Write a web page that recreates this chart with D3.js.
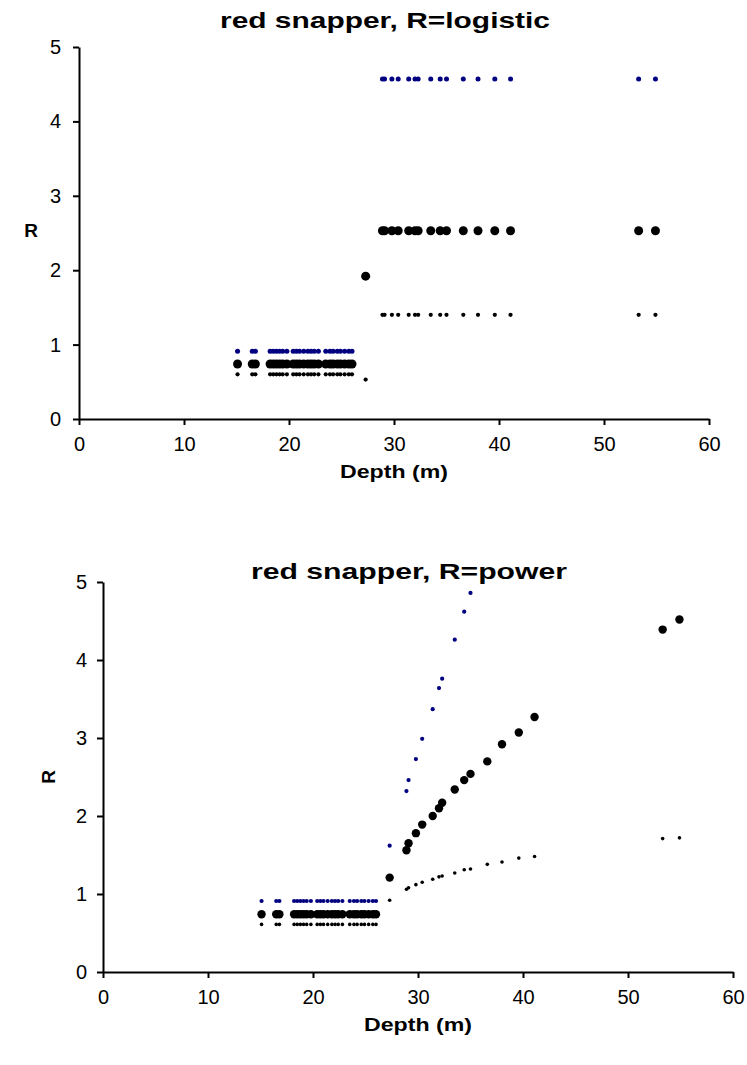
<!DOCTYPE html>
<html>
<head>
<meta charset="utf-8">
<script src="https://cdn.jsdelivr.net/npm/d3@7"></script>
<style>
  html, body { margin: 0; padding: 0; background: #fff; }
  svg { display: block; }
  text { font-family: "Liberation Sans", Arial, sans-serif; fill: #000; }
</style>
</head>
<body>
<svg id="chart" width="747" height="1065"></svg>
<script>
// ---- data ----
const depths = [
  15.1, 16.5, 16.8, 18.2, 18.5, 18.8, 19.1, 19.4, 19.8, 20.4, 20.7, 21.0, 21.4,
  21.8, 22.1, 22.4, 22.8, 23.5, 23.9, 24.2, 24.6, 24.9, 25.3, 25.7, 26.0,
  27.3, 28.9, 29.1, 29.8, 30.4, 31.4, 32.0, 32.3, 33.5, 34.4, 35.0, 36.6, 38.0, 39.6, 41.1, 53.3, 54.9
];

// logistic model (top panel)
const logisticUpper = [
  0.91, 0.91, 0.91, 0.91, 0.91, 0.91, 0.91, 0.91, 0.91, 0.91, 0.91, 0.91, 0.91,
  0.91, 0.91, 0.91, 0.91, 0.91, 0.91, 0.91, 0.91, 0.91, 0.91, 0.91, 0.91,
  null, 4.57, 4.57, 4.57, 4.57, 4.57, 4.57, 4.57, 4.57, 4.57, 4.57, 4.57, 4.57, 4.57, 4.57, 4.57, 4.57
];
const logisticMean = [
  0.74, 0.74, 0.74, 0.74, 0.74, 0.74, 0.74, 0.74, 0.74, 0.74, 0.74, 0.74, 0.74,
  0.74, 0.74, 0.74, 0.74, 0.74, 0.74, 0.74, 0.74, 0.74, 0.74, 0.74, 0.74,
  1.92, 2.53, 2.53, 2.53, 2.53, 2.53, 2.53, 2.53, 2.53, 2.53, 2.53, 2.53, 2.53, 2.53, 2.53, 2.53, 2.53
];
const logisticLower = [
  0.60, 0.60, 0.60, 0.60, 0.60, 0.60, 0.60, 0.60, 0.60, 0.60, 0.60, 0.60, 0.60,
  0.60, 0.60, 0.60, 0.60, 0.60, 0.60, 0.60, 0.60, 0.60, 0.60, 0.60, 0.60,
  0.53, 1.40, 1.40, 1.40, 1.40, 1.40, 1.40, 1.40, 1.40, 1.40, 1.40, 1.40, 1.40, 1.40, 1.40, 1.40, 1.40
];

// power model (bottom panel)
const powerUpper = [
  0.91, 0.91, 0.91, 0.91, 0.91, 0.91, 0.91, 0.91, 0.91, 0.91, 0.91, 0.91, 0.91,
  0.91, 0.91, 0.91, 0.91, 0.91, 0.91, 0.91, 0.91, 0.91, 0.91, 0.91, 0.91,
  1.62, 2.32, 2.46, 2.73, 2.99, 3.37, 3.64, 3.76, 4.26, 4.62, 4.86, null, null, null, null, null, null
];
const powerMean = [
  0.74, 0.74, 0.74, 0.74, 0.74, 0.74, 0.74, 0.74, 0.74, 0.74, 0.74, 0.74, 0.74,
  0.74, 0.74, 0.74, 0.74, 0.74, 0.74, 0.74, 0.74, 0.74, 0.74, 0.74, 0.74,
  1.21, 1.56, 1.65, 1.78, 1.89, 2.00, 2.10, 2.17, 2.34, 2.46, 2.54, 2.70, 2.92, 3.07, 3.27, 4.39, 4.52
];
const powerLower = [
  0.61, 0.61, 0.61, 0.61, 0.61, 0.61, 0.61, 0.61, 0.61, 0.61, 0.61, 0.61, 0.61,
  0.61, 0.61, 0.61, 0.61, 0.61, 0.61, 0.61, 0.61, 0.61, 0.61, 0.61, 0.61,
  0.92, 1.06, 1.08, 1.12, 1.15, 1.19, 1.22, 1.23, 1.27, 1.31, 1.32, 1.38, 1.41, 1.46, 1.48, 1.71, 1.72
];

const xTicks = [0, 10, 20, 30, 40, 50, 60];
const yTicks = [0, 1, 2, 3, 4, 5];
const titles = ["red snapper, R=logistic", "red snapper, R=power"];
const xTitle = "Depth (m)";
const yTitle = "R";

// ---- drawing ----
const svg = d3.select("#chart");
const FONT = '"Liberation Sans", Arial, sans-serif';

function panel(cfg) {
  const x = d3.scaleLinear().domain([0, 60]).range([cfg.left, cfg.right]);
  const y = d3.scaleLinear().domain([0, 5]).range([cfg.bottom, cfg.top]);
  const g = svg.append("g");

  // series: upper (blue small), mean (black large), lower (black small)
  const series = [
    { vals: cfg.lower, r: cfg.rSmall, color: "#000000" },
    { vals: cfg.mean, r: cfg.rLarge, color: "#000000" },
    { vals: cfg.upper, r: cfg.rBlue, color: "#000080" }
  ];
  series.forEach(s => {
    const pts = depths.map((d, i) => ({ d, v: s.vals[i] }))
      .filter(p => p.v !== null && p.v <= 5);
    g.append("g").selectAll("circle").data(pts).join("circle")
      .attr("cx", p => x(p.d))
      .attr("cy", p => y(p.v))
      .attr("r", s.r)
      .attr("fill", s.color);
  });

  const xAxis = g.append("g")
    .attr("transform", `translate(0,${cfg.bottom})`)
    .call(d3.axisBottom(x).tickValues(xTicks).tickFormat(d3.format("d"))
      .tickSize(6).tickSizeOuter(0).tickPadding(12));
  const yAxis = g.append("g")
    .attr("transform", `translate(${cfg.left},0)`)
    .call(d3.axisLeft(y).tickValues(yTicks).tickFormat(d3.format("d"))
      .tickSize(6).tickSizeOuter(0).tickPadding(cfg.yPad));
  [xAxis, yAxis].forEach(a => {
    a.select(".domain").attr("stroke", "#000").attr("stroke-width", 2);
    a.selectAll(".tick line").attr("stroke", "#000").attr("stroke-width", 2);
    a.selectAll(".tick text")
      .style("font-family", FONT)
      .style("font-size", "20px").attr("fill", "#000");
  });

  g.append("text")
    .attr("x", cfg.titleX).attr("y", cfg.titleY)
    .attr("text-anchor", "middle")
    .attr("textLength", cfg.titleLen).attr("lengthAdjust", "spacingAndGlyphs")
    .style("font-size", "22px").style("font-weight", "bold")
    .text(cfg.title);

  g.append("text")
    .attr("x", (cfg.left + cfg.right) / 2).attr("y", cfg.xTitleY)
    .attr("text-anchor", "middle")
    .attr("textLength", 108).attr("lengthAdjust", "spacingAndGlyphs")
    .style("font-size", "19px").style("font-weight", "bold")
    .text(xTitle);

  const yt = g.append("text")
    .attr("text-anchor", "middle")
    .attr("dominant-baseline", "middle")
    .style("font-size", "19px").style("font-weight", "bold")
    .text(yTitle);
  if (cfg.rotateY) {
    yt.attr("transform", `translate(${cfg.yTitleX},${cfg.yTitleY}) rotate(-90)`);
  } else {
    yt.attr("x", cfg.yTitleX).attr("y", cfg.yTitleY);
  }
}

panel({
  left: 79, right: 709, top: 47, bottom: 419,
  upper: logisticUpper, mean: logisticMean, lower: logisticLower,
  rBlue: 2.5, rLarge: 4.5, rSmall: 2.1, yPad: 12,
  title: titles[0], titleX: 385, titleY: 28, titleLen: 330,
  xTitleY: 478, yTitleX: 31, yTitleY: 232, rotateY: false
});

panel({
  left: 103, right: 733, top: 582, bottom: 972,
  upper: powerUpper, mean: powerMean, lower: powerLower,
  rBlue: 2.1, rLarge: 4.2, rSmall: 1.8, yPad: 10,
  title: titles[1], titleX: 409, titleY: 579, titleLen: 316,
  xTitleY: 1031, yTitleX: 50, yTitleY: 777, rotateY: true
});
</script>
</body>
</html>
